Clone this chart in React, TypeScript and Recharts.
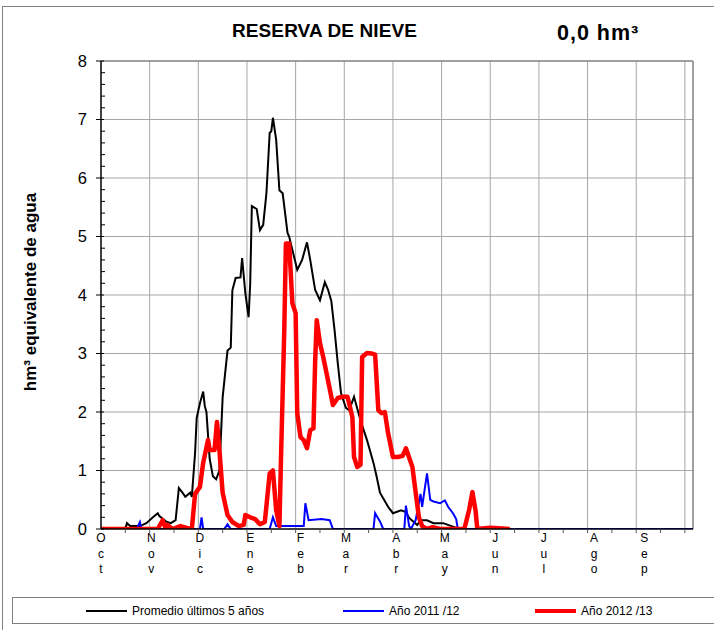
import React from "react";
import {
  LineChart,
  Line,
  XAxis,
  YAxis,
  CartesianGrid,
  ReferenceLine,
} from "recharts";

// días desde el 1 de octubre
const months = ["Oct", "Nov", "Dic", "Ene", "Feb", "Mar", "Abr", "May", "Jun", "Jul", "Ago", "Sep"];
const monthStartDays = [0, 31, 61, 92, 123, 151, 182, 212, 243, 273, 304, 335];
const gridDays = [30, 60, 90, 120, 150, 180, 210, 240, 270, 300, 330, 360];
const minorDays = [15, 45, 75, 105, 135, 165, 195, 225, 255, 285, 315, 345];

// Promedio últimos 5 años [día, hm³]
const promedio: [number, number][] = [
  [0, 0], [15, 0], [16, 0.1], [18, 0.05], [24, 0.05], [28, 0.1], [32, 0.2], [35, 0.27],
  [36, 0.22], [40, 0.13], [43, 0.1], [46, 0.15], [48, 0.7], [50, 0.63], [52, 0.55],
  [55, 0.62], [56, 0.55], [58, 1.3], [59, 1.9], [61, 2.15], [63, 2.35], [64, 2.1],
  [65, 2.0], [67, 1.2], [69, 0.9], [71, 0.85], [73, 1.0], [75, 2.25], [78, 3.05],
  [80, 3.1], [81, 4.08], [83, 4.29], [86, 4.3], [87, 4.63], [89, 4.03], [91, 3.62],
  [92, 4.2], [93, 5.52], [96, 5.47], [98, 5.11], [100, 5.2], [102, 5.74], [104, 6.77],
  [105, 6.8], [106, 7.03], [108, 6.65], [110, 5.79], [112, 5.74], [115, 5.06],
  [116, 5.0], [118, 4.77], [121, 4.43], [124, 4.6], [127, 4.9], [129, 4.6], [132, 4.09],
  [135, 3.91], [138, 4.22], [140, 4.09], [142, 3.9], [144, 3.4], [146, 2.83],
  [148, 2.32], [151, 2.07], [153, 2.03], [156, 2.26], [160, 1.86], [164, 1.52],
  [168, 1.13], [170, 0.89], [172, 0.62], [177, 0.38], [180, 0.27], [185, 0.32],
  [188, 0.29], [190, 0.19], [195, 0.07], [197, 0.15], [201, 0.15], [205, 0.1],
  [211, 0.1], [217, 0.04], [221, 0], [365, 0],
];

// Año 2011/12
const anio2011: [number, number][] = [
  [0, 0], [22, 0], [24, 0.12], [25, 0], [61, 0], [62, 0.2], [63, 0], [76, 0], [78, 0.08],
  [80, 0], [104, 0], [106, 0.2], [108, 0.05], [125, 0.05], [126, 0.44], [128, 0.15],
  [136, 0.17], [141, 0.15], [143, 0], [168, 0], [169, 0.27], [172, 0.13], [174, 0],
  [187, 0], [188, 0.4], [190, 0.05], [191, 0], [194, 0.15], [197, 0.6], [198, 0.38],
  [201, 0.95], [203, 0.5], [205, 0.47], [209, 0.44], [212, 0.49], [214, 0.38],
  [217, 0.27], [219, 0.17], [220, 0], [365, 0],
];

// Año 2012/13
const anio2012: [number, number][] = [
  [0, 0], [35, 0], [38, 0.15], [40, 0], [41, 0.07], [44, 0], [49, 0.05], [55, 0],
  [56, 0], [58, 0.6], [61, 0.72], [63, 1.13], [66, 1.52], [67, 1.35], [70, 1.35],
  [71.5, 1.83], [73, 1.35], [75, 0.62], [78, 0.24], [81, 0.12], [85, 0.05], [88, 0.07],
  [89, 0.24], [92, 0.2], [95, 0.17], [98, 0.08], [101, 0.12], [104, 0.95], [106, 1.0],
  [108, 0.32], [110, 0.05], [111, 1.23], [113, 3.4], [114, 4.88], [116, 4.88],
  [118, 3.86], [120, 3.69], [121, 1.98], [123, 1.57], [125, 1.52], [127, 1.38],
  [129, 1.69], [131, 1.72], [132, 2.83], [133, 3.57], [135, 3.18], [137, 2.94],
  [139, 2.67], [142, 2.26], [143, 2.12], [146, 2.24], [149, 2.26], [152, 2.26],
  [155, 1.91], [156, 1.23], [158, 1.06], [160, 1.1], [161, 2.94], [164, 3.01],
  [167, 3.0], [169, 2.98], [171, 2.03], [173, 1.98], [175, 2.0], [177, 1.64],
  [180, 1.23], [183, 1.23], [186, 1.25], [188, 1.38], [192, 1.06], [193, 0.84],
  [196, 0.2], [198, 0.05], [201, 0], [204.5, 0.03], [209, 0], [224, 0], [227, 0.33],
  [229, 0.63], [231, 0.3], [232, 0], [240, 0.02], [252, 0],
];

const toRows = (pts: [number, number][]) => pts.map(([day, v]) => ({ day, v }));

const xTicks = Array.from(new Set([...monthStartDays, ...gridDays, ...minorDays])).sort((a, b) => a - b);
const yTicks = Array.from({ length: 41 }, (_, i) => i / 5);

const FONT = "'Liberation Sans', Arial, sans-serif";

function XTick(props: any) {
  const { x, y, payload } = props;
  const d = payload.value;
  const idx = monthStartDays.indexOf(d);
  return (
    <g>
      {d % 15 === 0 && d > 0 && <line x1={x} x2={x} y1={y} y2={y + 4} stroke="#555" />}
      {idx >= 0 &&
        months[idx].split("").map((ch, i) => (
          <text key={i} x={x} y={y + 13 + i * 15.5} textAnchor="middle" fontSize={12} fontFamily={FONT} fill="#000">
            {ch}
          </text>
        ))}
    </g>
  );
}

function YTick(props: any) {
  const { x, y, payload } = props;
  const v = payload.value;
  if (Number.isInteger(v)) {
    return (
      <g>
        <line x1={x - 5} x2={x + 3} y1={y} y2={y} stroke="#000" />
        <text x={x - 14} y={y} dy="0.36em" textAnchor="end" fontSize={16.5} fontFamily={FONT} fill="#000">
          {v}
        </text>
      </g>
    );
  }
  return <line x1={x} x2={x + 4} y1={y} y2={y} stroke="#000" />;
}

function LegendItem({ color, width, label, left }: { color: string; width: number; label: string; left: number }) {
  return (
    <div style={{ position: "absolute", left, top: 0, height: 25, display: "flex", alignItems: "center" }}>
      <div style={{ width: 41, height: width, background: color, marginRight: 5 }} />
      <span style={{ fontSize: 12, fontFamily: FONT, color: "#000" }}>{label}</span>
    </div>
  );
}

export default function App() {
  return (
    <div style={{ position: "absolute", left: 0, top: 0, width: 714, height: 630, overflow: "hidden", background: "#fff" }}>
      <div style={{ position: "absolute", left: 2, top: 6, width: 730, height: 640, border: "1px solid #808080" }} />
      <div
        style={{
          position: "absolute", left: 232, top: 20, fontSize: 19, fontWeight: "bold", fontFamily: FONT,
          letterSpacing: 0.1,
        }}
      >
        RESERVA DE NIEVE
      </div>
      <div
        style={{
          position: "absolute", left: 557, top: 21, fontSize: 21.5, fontWeight: "bold", fontFamily: FONT, letterSpacing: 1,
        }}
      >
        0,0 hm³
      </div>
      <div
        style={{
          position: "absolute", left: 31, top: 292, transform: "translate(-50%, -50%) rotate(-90deg)",
          whiteSpace: "nowrap", fontSize: 17, fontWeight: "bold", fontFamily: FONT,
        }}
      >
        hm³ equivalente de agua
      </div>
      <div style={{ position: "absolute", left: 0, top: 0 }}>
        <LineChart width={714} height={630} margin={{ top: 61, right: 21, bottom: 71, left: 61 }}>
          <CartesianGrid
            stroke="#a6a6a6"
            horizontalValues={[1, 2, 3, 4, 5, 6, 7]}
            verticalValues={gridDays}
          />
          <ReferenceLine y={8} stroke="#808080" strokeWidth={1.5} />
          <ReferenceLine x={365} stroke="#808080" strokeWidth={1.5} />
          <XAxis
            type="number"
            dataKey="day"
            domain={[0, 365]}
            ticks={xTicks}
            interval={0}
            height={30}
            tickLine={false}
            tickSize={0}
            tickMargin={0}
            tick={<XTick />}
            axisLine={{ stroke: "#000", strokeWidth: 1.5 }}
            allowDataOverflow
          />
          <YAxis
            type="number"
            domain={[0, 8]}
            ticks={yTicks}
            interval={0}
            width={40}
            tickLine={false}
            tickSize={0}
            tickMargin={0}
            tick={<YTick />}
            axisLine={{ stroke: "#000", strokeWidth: 1.5 }}
            allowDataOverflow
          />
          <Line data={toRows(promedio)} dataKey="v" type="linear" stroke="#000" strokeWidth={2} dot={false} isAnimationActive={false} />
          <Line data={toRows(anio2011)} dataKey="v" type="linear" stroke="#0000ff" strokeWidth={2} dot={false} isAnimationActive={false} />
          <Line
            data={toRows(anio2012)}
            dataKey="v"
            type="linear"
            stroke="#ff0000"
            strokeWidth={4.5}
            strokeLinejoin="round"
            dot={false}
            isAnimationActive={false}
          />
        </LineChart>
      </div>
      <div style={{ position: "absolute", left: 12, top: 597, width: 730, height: 25, border: "1px solid #808080" }}>
        <LegendItem color="#000" width={2} label="Promedio últimos 5 años" left={73} />
        <LegendItem color="#0000ff" width={2} label="Año 2011 /12" left={330} />
        <LegendItem color="#ff0000" width={4} label="Año 2012 /13" left={522} />
      </div>
    </div>
  );
}
